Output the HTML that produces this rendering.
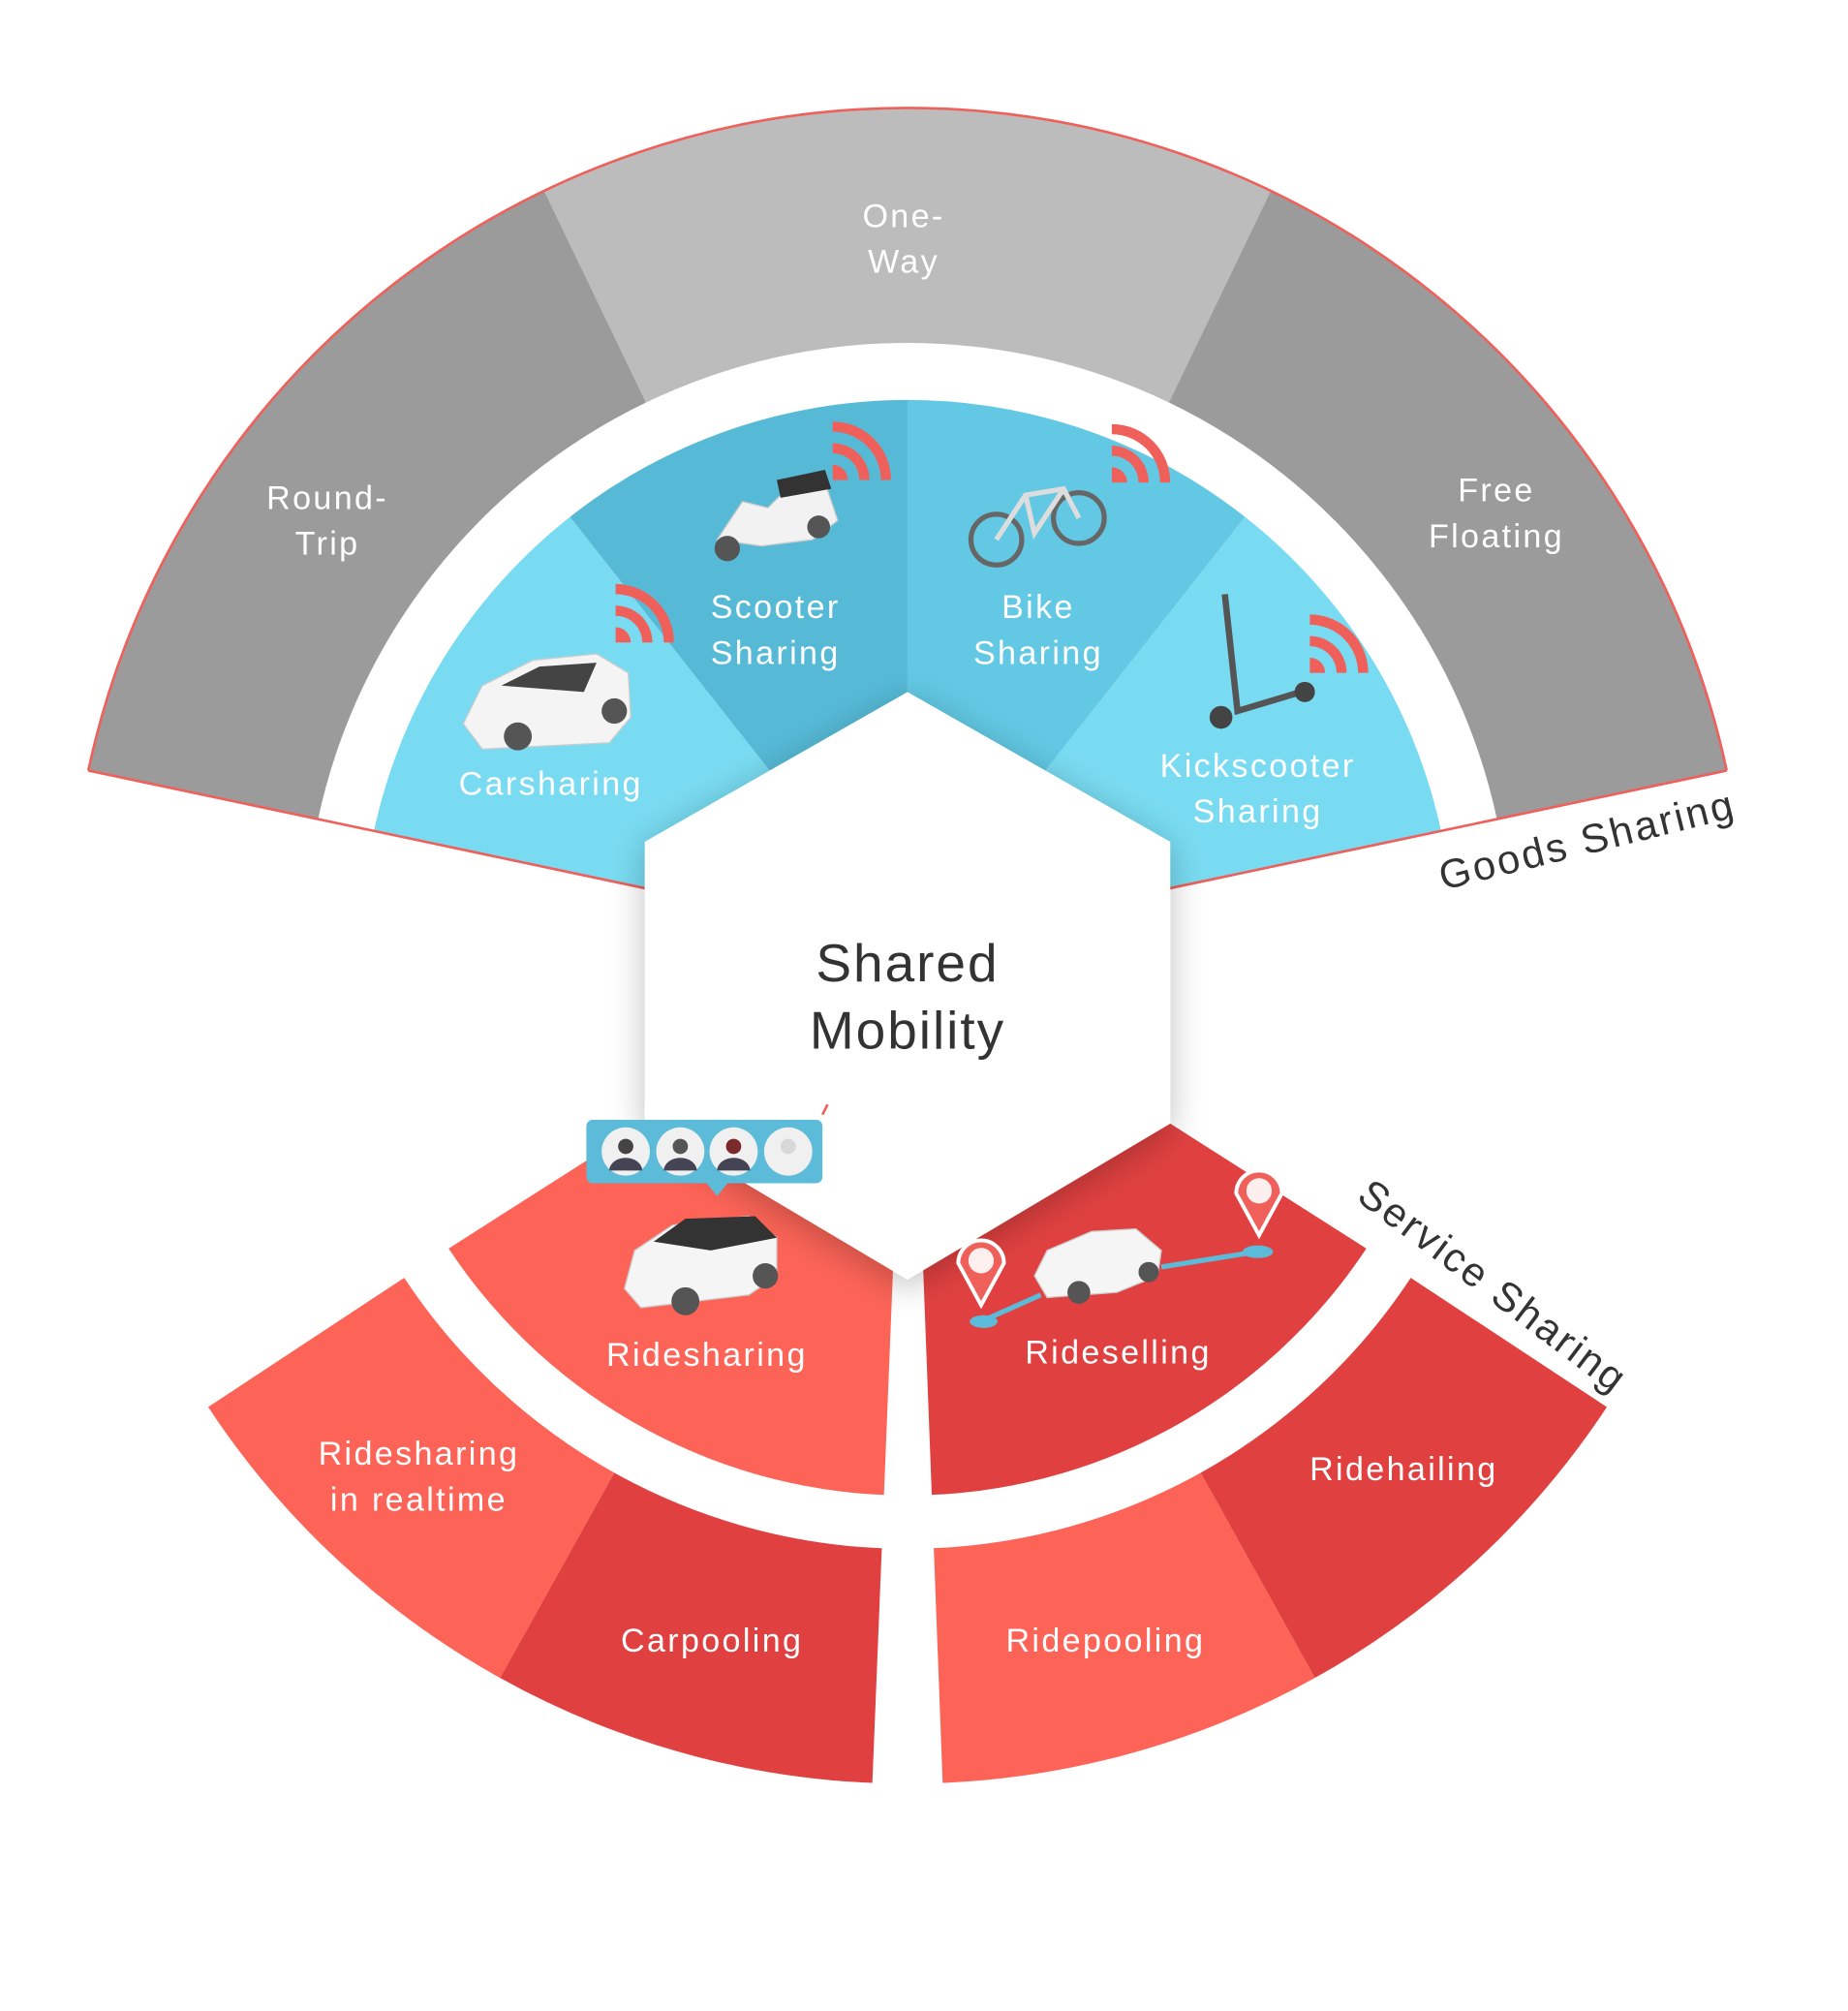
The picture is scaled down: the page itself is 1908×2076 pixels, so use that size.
<!DOCTYPE html>
<html><head><meta charset="utf-8"><style>
html,body{margin:0;padding:0;background:#fff;}
svg{display:block;}
text{font-family:"Liberation Sans",sans-serif;}
.w{fill:#fff;font-size:26px;letter-spacing:1.8px;text-anchor:middle;dominant-baseline:middle;}
</style></head><body>
<svg width="1908" height="2076" viewBox="0 0 1456 1584" xmlns="http://www.w3.org/2000/svg">
<defs>
<filter id="sh" x="-30%" y="-30%" width="160%" height="160%"><feGaussianBlur in="SourceAlpha" stdDeviation="14"/><feOffset dx="0" dy="6"/><feComponentTransfer><feFuncA type="linear" slope="0.25"/></feComponentTransfer><feMerge><feMergeNode/><feMergeNode in="SourceGraphic"/></feMerge></filter>
<g id="sig"><path d="M0,0 L0,-12 A12,12 0 0 1 12,0 Z" fill="#f0605a"/><path d="M0,-21 A21,21 0 0 1 21,0 L29,0 A29,29 0 0 0 0,-29 Z" fill="#f0605a"/><path d="M0,-38 A38,38 0 0 1 38,0 L46,0 A46,46 0 0 0 0,-46 Z" fill="#f0605a"/></g>
</defs>
<rect width="1456" height="1584" fill="#fff"/>
<!-- gray -->
<path d="M69.6,606.9 A660,660 0 0 1 428.8,150.3 L509,317 A475,475 0 0 0 250.5,645.6 Z" fill="#9b9b9b"/>
<path d="M428.8,150.3 A660,660 0 0 1 1001.2,150.3 L921,317 A475,475 0 0 0 509,317 Z" fill="#bcbcbc"/>
<path d="M1001.2,150.3 A660,660 0 0 1 1360.4,606.9 L1179.5,645.6 A475,475 0 0 0 921,317 Z" fill="#9b9b9b"/>
<!-- blue -->
<path d="M715,745 L294.5,655 A430,430 0 0 1 449.1,407.1 Z" fill="#79dbf1"/>
<path d="M715,745 L449.1,407.1 A430,430 0 0 1 715,315 Z" fill="#56bad7"/>
<path d="M715,745 L715,315 A430,430 0 0 1 980.9,407.1 Z" fill="#62c8e3"/>
<path d="M715,745 L980.9,407.1 A430,430 0 0 1 1135.5,655 Z" fill="#79dbf1"/>
<path d="M69.6,606.9 A660,660 0 0 1 1360.4,606.9" fill="none" stroke="#f0605a" stroke-width="2"/>
<path d="M69.6,606.9 L510,700 M1360.4,606.9 L920,700" stroke="#f0605a" stroke-width="2"/>
<!-- red -->
<path d="M508,885 L715,1005 L715,1178 A433,433 0 0 1 353.5,983.4 Z" fill="#fd6457"/>
<path d="M922,885 L715,1005 L715,1178 A433,433 0 0 0 1076.5,983.4 Z" fill="#e04140"/>
<path d="M164,1108.3 A660,660 0 0 0 394,1321.7 L484,1160.1 A475,475 0 0 1 318.5,1006.5 Z" fill="#fd6457"/>
<path d="M394,1321.7 A660,660 0 0 0 715,1405 L715,1220 A475,475 0 0 1 484,1160.1 Z" fill="#e04140"/>
<path d="M715,1405 A660,660 0 0 0 1036,1321.7 L946,1160.1 A475,475 0 0 1 715,1220 Z" fill="#fd6457"/>
<path d="M1036,1321.7 A660,660 0 0 0 1266,1108.3 L1111.5,1006.5 A475,475 0 0 1 946,1160.1 Z" fill="#e04140"/>
<polygon points="704,990 727,990 743,1412 687,1412" fill="#fff"/>
<!-- hex -->
<polygon points="715,545 922,663 922,885 715,1008 508,885 508,663" fill="#fff" filter="url(#sh)"/>
<text x="715" y="762" text-anchor="middle" dominant-baseline="middle" font-size="42" fill="#333" letter-spacing="1.5">Shared</text>
<text x="715" y="815" text-anchor="middle" dominant-baseline="middle" font-size="42" fill="#333" letter-spacing="1.5">Mobility</text>
<!-- labels -->
<text class="w" x="712" y="172">One-</text><text class="w" x="712" y="208">Way</text>
<text class="w" x="258" y="394">Round-</text><text class="w" x="258" y="430">Trip</text>
<text class="w" x="1179" y="388">Free</text><text class="w" x="1179" y="424">Floating</text>
<text class="w" x="611" y="480">Scooter</text><text class="w" x="611" y="516">Sharing</text>
<text class="w" x="818" y="480">Bike</text><text class="w" x="818" y="516">Sharing</text>
<text class="w" x="434" y="619">Carsharing</text>
<text class="w" x="991" y="605">Kickscooter</text><text class="w" x="991" y="641">Sharing</text>
<text class="w" x="557" y="1069">Ridesharing</text>
<text class="w" x="881" y="1067">Rideselling</text>
<text class="w" x="330" y="1147">Ridesharing</text><text class="w" x="330" y="1183">in realtime</text>
<text class="w" x="561" y="1294">Carpooling</text>
<text class="w" x="871" y="1294">Ridepooling</text>
<text class="w" x="1106" y="1159">Ridehailing</text>
<text x="1251" y="664" transform="rotate(-14 1251 664)" text-anchor="middle" dominant-baseline="middle" font-size="32" fill="#333" letter-spacing="2">Goods Sharing</text>
<text x="1175" y="1015" transform="rotate(37 1175 1015)" text-anchor="middle" dominant-baseline="middle" font-size="32" fill="#333" letter-spacing="2">Service Sharing</text>
<!-- signals -->
<use href="#sig" x="656" y="378"/><use href="#sig" x="876" y="380"/><use href="#sig" x="485" y="506"/><use href="#sig" x="1032" y="530"/>
<!-- vehicles simplified -->
<g>
<path d="M365,570 L380,540 L420,520 L470,515 L495,530 L497,565 L480,585 L380,590 Z" fill="#f4f4f4" stroke="#ccc"/>
<path d="M395,540 L425,525 L470,522 L460,545 Z" fill="#444"/>
<circle cx="408" cy="580" r="11" fill="#555"/><circle cx="484" cy="560" r="10" fill="#555"/>
</g>
<g>
<path d="M565,425 L585,395 L605,400 L620,385 L650,380 L660,410 L640,425 L600,430 Z" fill="#f2f2f2" stroke="#ccc"/>
<path d="M612,378 L650,370 L655,385 L615,392 Z" fill="#333"/>
<circle cx="573" cy="432" r="10" fill="#555"/><circle cx="645" cy="415" r="9" fill="#555"/>
</g>
<g fill="none" stroke="#666" stroke-width="4">
<circle cx="785" cy="425" r="20"/><circle cx="850" cy="408" r="20"/>
<path d="M785,425 L808,390 L838,385 L850,408 M808,390 L815,420 L838,385" stroke="#ddd"/>
</g>
<g stroke="#555" stroke-width="5" fill="none"><path d="M965,468 L975,560 L1025,545"/></g>
<circle cx="962" cy="565" r="9" fill="#444"/><circle cx="1028" cy="545" r="8" fill="#444"/>
<g>
<path d="M492,1015 L500,985 L530,965 L590,958 L612,975 L612,1005 L590,1020 L505,1030 Z" fill="#f5f5f5" stroke="#ccc"/>
<path d="M515,978 L540,960 L595,958 L612,975 L560,985 Z" fill="#333"/>
<circle cx="540" cy="1025" r="11" fill="#555"/><circle cx="603" cy="1005" r="10" fill="#555"/>
</g>
<g>
<path d="M815,1005 L825,985 L860,970 L895,968 L915,985 L912,1005 L880,1018 L825,1022 Z" fill="#f5f5f5" stroke="#ccc"/>
<circle cx="850" cy="1018" r="9" fill="#555"/><circle cx="905" cy="1002" r="8" fill="#555"/>
</g>
<path d="M775,1040 L820,1020 M915,998 L990,986" stroke="#5bbbd8" stroke-width="4"/>
<ellipse cx="775" cy="1041" rx="11" ry="5" fill="#5bbbd8"/><ellipse cx="991" cy="986" rx="12" ry="5" fill="#5bbbd8"/>
<path d="M755,995 A18,18 0 1 1 791,995 L773,1028 Z" fill="#f0605a" stroke="#fff" stroke-width="3"/>
<circle cx="773" cy="993" r="10" fill="#fff" opacity="0.9"/>
<path d="M974,940 A18,18 0 1 1 1010,940 L992,973 Z" fill="#f0605a" stroke="#fff" stroke-width="3"/>
<circle cx="992" cy="938" r="10" fill="#fff" opacity="0.9"/>
<!-- avatars -->
<rect x="462" y="882" width="186" height="50" rx="5" fill="#5bbbd8"/>
<polygon points="555,930 575,930 565,942" fill="#5bbbd8"/>
<circle cx="493" cy="907" r="19" fill="#f0f0f0"/><circle cx="536" cy="907" r="19" fill="#f0f0f0"/><circle cx="578" cy="907" r="19" fill="#f0f0f0"/><circle cx="621" cy="907" r="19" fill="#f0f0f0"/>
<circle cx="493" cy="903" r="6" fill="#444"/><circle cx="536" cy="903" r="6" fill="#555"/><circle cx="578" cy="903" r="6" fill="#7a2a2a"/><circle cx="621" cy="903" r="6" fill="#d8d8d8"/>
<path d="M480,922 A13,10 0 0 1 506,922 Z M523,922 A13,10 0 0 1 549,922 Z M565,922 A13,10 0 0 1 591,922 Z" fill="#445"/>
<path d="M648,878 L652,870" stroke="#f0605a" stroke-width="2"/>
</svg>
</body></html>
